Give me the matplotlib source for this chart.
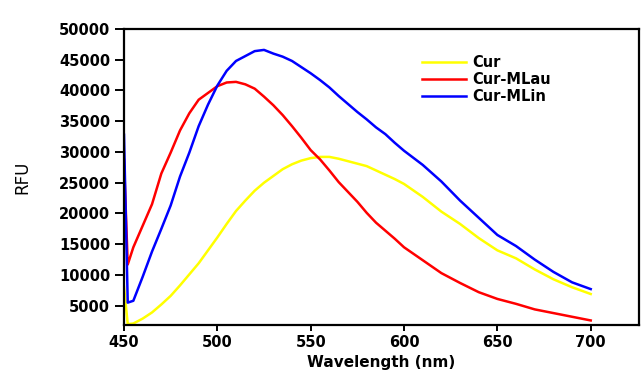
import matplotlib
matplotlib.use("Agg")
import matplotlib.pyplot as plt

wavelength = [450, 452, 455, 460, 465, 470, 475, 480, 485, 490, 495, 500, 505, 510, 515,
              520, 525, 530, 535, 540, 545, 550, 555, 560, 565, 570, 575, 580, 585, 590,
              595, 600, 610, 620, 630, 640, 650, 660, 670, 680, 690, 700]

cur = [8100, 2000, 2100, 2900, 3900, 5200, 6600, 8300, 10100, 11900, 14000, 16100, 18300, 20400, 22100,
       23700, 25000, 26100, 27200, 28000, 28600, 29000, 29200, 29200, 28900, 28500, 28100, 27700, 27000, 26300,
       25600, 24800, 22700, 20300, 18300, 16000, 14000, 12700, 10900, 9300, 8000, 6900]

cur_mlau = [28700, 11700, 14500, 18000, 21500, 26500, 29900, 33500, 36300, 38500, 39600, 40700, 41300, 41400, 41000,
            40300, 39000, 37600, 36000, 34200, 32300, 30300, 28800, 27000, 25100, 23500, 21900, 20100, 18500, 17200,
            15900, 14500, 12400, 10300, 8700, 7200, 6100, 5300, 4400, 3800, 3200, 2600]

cur_mlin = [32800, 5500, 5800, 9700, 13800, 17500, 21300, 26000, 29900, 34200, 37700, 40800, 43200, 44800, 45600,
            46400, 46600, 46000, 45500, 44800, 43800, 42800, 41700, 40500, 39100, 37800, 36500, 35300, 34000, 32900,
            31500, 30200, 27900, 25200, 22100, 19300, 16500, 14700, 12500, 10500, 8800, 7700]

series_names = ["Cur", "Cur-MLau", "Cur-MLin"]
series_colors = ["#ffff00", "#ff0000", "#0000ff"]
x_ticks = [450, 500, 550, 600, 650, 700]
y_ticks = [5000, 10000, 15000, 20000, 25000, 30000, 35000, 40000, 45000, 50000]

W, H = 643, 372
fig = plt.figure(figsize=(W / 100, H / 100), dpi=100)
ax = fig.add_axes([124 / W, 1 - 325 / H, (638.7 - 124) / W, (325 - 29) / H])

for ys, name, col in zip([cur, cur_mlau, cur_mlin], series_names, series_colors):
    ax.plot(wavelength, ys, color=col, lw=1.8, label=name, solid_joinstyle="round")

ax.set_xlim(450, 725.7)
ax.set_ylim(1860, 50000)
ax.set_xticks(x_ticks)
ax.set_yticks(y_ticks)
ax.set_xticklabels([str(v) for v in x_ticks], fontsize=10.5, fontweight="bold", family="DejaVu Sans")
ax.set_yticklabels([str(v) for v in y_ticks], fontsize=10.5, fontweight="bold", family="DejaVu Sans")
ax.tick_params(axis="y", direction="out", length=6.5, width=1.4, pad=3.5)
ax.tick_params(axis="x", direction="out", length=4.5, width=1.4, pad=3)
for s in ax.spines.values():
    s.set_linewidth(1.6)
    s.set_color("black")

ax.set_xlabel("Wavelength (nm)", fontsize=11, fontweight="bold", family="DejaVu Sans", labelpad=3)
ax.set_ylabel("RFU", fontsize=12, family="DejaVu Sans", labelpad=20)

leg = ax.legend(loc="upper left", bbox_to_anchor=(412 / W, 1 - 45 / H), bbox_transform=fig.transFigure,
                frameon=False, prop={"family": "DejaVu Sans", "weight": "bold", "size": 10.5},
                handlelength=3.0, handletextpad=0.4, labelspacing=0.12, borderpad=0.2)

fig.savefig("out.png", dpi=100, facecolor="white")
